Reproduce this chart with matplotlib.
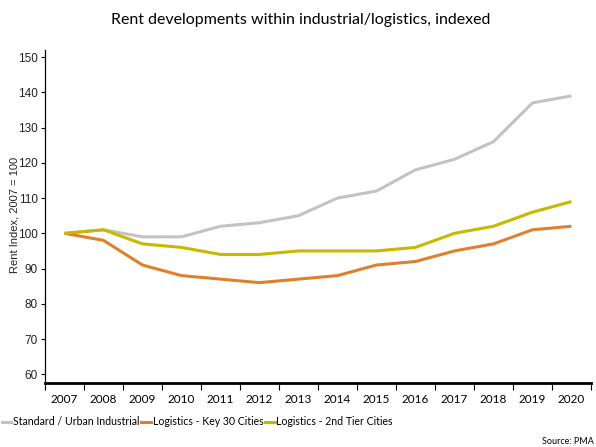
import matplotlib.pyplot as plt
from matplotlib.lines import Line2D

years = ['2007', '2008', '2009', '2010', '2011', '2012', '2013',
         '2014', '2015', '2016', '2017', '2018', '2019', '2020']
standard = [100, 101, 99, 99, 102, 103, 105, 110, 112, 118, 121, 126, 137, 139]
key30 = [100, 98, 91, 88, 87, 86, 87, 88, 91, 92, 95, 97, 101, 102]
tier2 = [100, 101, 97, 96, 94, 94, 95, 95, 95, 96, 100, 102, 106, 109]

names = ['Standard / Urban Industrial', 'Logistics - Key 30 Cities',
         'Logistics - 2nd Tier Cities']
colors = ['#c3c3c3', '#e0802e', '#c9b800']

fig = plt.figure(figsize=(5.96, 4.47), dpi=100)
ax = fig.add_axes([0.0755, 0.143, 0.916, 0.745])

x = range(len(years))
for vals, c in zip([standard, key30, tier2], colors):
    ax.plot(x, vals, color=c, lw=2.2, solid_capstyle='butt')

ax.set_xlim(-0.5, len(years) - 0.5)
ax.set_ylim(57.5, 152)
ax.set_yticks(range(60, 151, 10))
ax.tick_params(axis='y', direction='out', length=3, width=0.8, labelsize=8.5,
               pad=2, labelcolor='#222222')
for lab in ax.get_yticklabels():
    lab.set_fontfamily('Liberation Sans')

# boundary ticks between years, labels centred on the years
ax.set_xticks([i + 0.5 for i in range(-1, len(years))])
ax.set_xticklabels([])
ax.set_xticks(list(x), minor=True)
ax.set_xticklabels(years, minor=True, fontfamily='Lato', fontsize=8.5)
ax.tick_params(axis='x', which='major', direction='out', length=5, width=0.8)
ax.tick_params(axis='x', which='minor', length=0, pad=8)

for s in ['top', 'right']:
    ax.spines[s].set_visible(False)
ax.spines['bottom'].set_linewidth(2)
ax.spines['left'].set_linewidth(0.9)

fig.text(0.024, 0.52, 'Rent Index, 2007 = 100', rotation=90,
         ha='center', va='center', fontfamily='Liberation Sans',
         fontsize=8, color='#222222')

fig.text(0.505, 0.955, 'Rent developments within industrial/logistics, indexed',
         ha='center', va='center', fontfamily='Lato', fontsize=11.5)

handles = [Line2D([], [], color=c, lw=2.2) for c in colors]
fig.legend(handles, names, loc='center left', bbox_to_anchor=(0.003, 0.056),
           ncol=3, frameon=False, prop={'family': 'Lato', 'size': 7.6},
           handlelength=0.9, handletextpad=0.15, columnspacing=0.2,
           borderaxespad=0, borderpad=0)

fig.text(0.997, 0.012, 'Source: PMA', ha='right', va='center',
         fontfamily='Lato', fontsize=6.5)

fig.savefig('out.png', dpi=100)
